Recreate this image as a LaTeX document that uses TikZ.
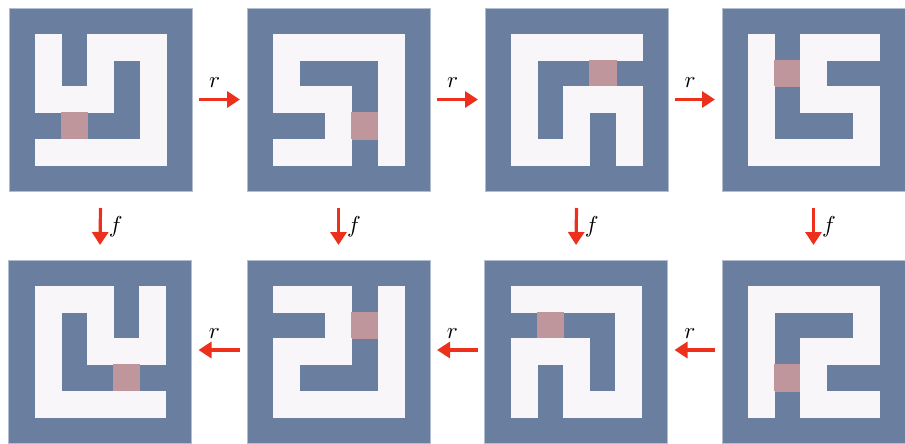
\documentclass[tikz,border=0pt]{standalone}
\usetikzlibrary{arrows.meta,calc}
\definecolor{mblue}{RGB}{106,127,160}
\definecolor{medge}{RGB}{178,190,208}
\definecolor{mwhite}{RGB}{248,246,248}
\definecolor{mpink}{RGB}{190,150,155}
\definecolor{ared}{RGB}{236,48,28}
\tikzset{
  maze/.style={draw=medge,line width=0.5pt,fill=mblue,minimum size=183pt,inner sep=0pt,outer sep=0pt},
  wcell/.style={fill=mwhite,draw=mwhite,line width=0.2pt},
  pcell/.style={fill=mpink,draw=mpink,line width=0.2pt},
  opar/.style={draw=ared,line width=3.2pt,-{Triangle[length=13pt,width=16pt]}},
  oplabel/.style={inner sep=1pt},
}
\newcommand{\oplbl}[1]{\scalebox{2.3}{$#1$}}
\newcommand{\mazecells}[2]{%
  \foreach \v [count=\k from 0] in {#2} {
    \pgfmathtruncatemacro{\rr}{int(\k/5)}
    \pgfmathtruncatemacro{\cc}{mod(\k,5)}
    \pgfmathsetmacro{\xx}{(\cc+1)*183/7}
    \pgfmathsetmacro{\yy}{(\rr+1)*183/7}
    \ifcase\v\relax
    \or \path[wcell] ($(#1.north west)+(\xx,\yy)$) rectangle ++(183/7,183/7);
    \or \path[pcell] ($(#1.north west)+(\xx,\yy)$) rectangle ++(183/7,183/7);
    \fi
  }%
}
\begin{document}
\begin{tikzpicture}[x=1pt,y=-1pt]
\useasboundingbox (0,0) rectangle (905,444);
% top row
\node[maze] (m1) at (100.5,99.5) {};
\node[maze] (m2) at (338.5,99.5) {};
\node[maze] (m3) at (576.5,99.5) {};
\node[maze] (m4) at (813.5,99.5) {};
% bottom row
\node[maze] (m5) at (100,351.5) {};
\node[maze] (m6) at (338.5,351.5) {};
\node[maze] (m7) at (576,351.5) {};
\node[maze] (m8) at (813.5,351.5) {};
\mazecells{m1}{1,0,1,1,1, 1,0,1,0,1, 1,1,1,0,1, 0,2,0,0,1, 1,1,1,1,1}
\mazecells{m2}{1,1,1,1,1, 1,0,0,0,1, 1,1,1,0,1, 0,0,1,2,1, 1,1,1,0,1}
\mazecells{m3}{1,1,1,1,1, 1,0,0,2,0, 1,0,1,1,1, 1,0,1,0,1, 1,1,1,0,1}
\mazecells{m4}{1,0,1,1,1, 1,2,1,0,0, 1,0,1,1,1, 1,0,0,0,1, 1,1,1,1,1}
\mazecells{m5}{1,1,1,0,1, 1,0,1,0,1, 1,0,1,1,1, 1,0,0,2,0, 1,1,1,1,1}
\mazecells{m6}{1,1,1,0,1, 0,0,1,2,1, 1,1,1,0,1, 1,0,0,0,1, 1,1,1,1,1}
\mazecells{m7}{1,1,1,1,1, 0,2,0,0,1, 1,1,1,0,1, 1,0,1,0,1, 1,0,1,1,1}
\mazecells{m8}{1,1,1,1,1, 1,0,0,0,1, 1,0,1,1,1, 1,2,1,0,0, 1,0,1,1,1}
% r arrows, top row
\foreach \a/\b in {m1/m2,m2/m3,m3/m4} {
  \draw[opar] ($(\a.east)+(7,0)$) -- node[oplabel,pos=0.38,above=9pt]{\oplbl{r}} ($(\b.west)+(-7,0)$);
}
% r arrows, bottom row
\foreach \a/\b in {m8/m7,m7/m6,m6/m5} {
  \draw[opar] ($(\a.west)+(-7,-1.5)$) -- node[oplabel,pos=0.62,above=9pt]{\oplbl{r}} ($(\b.east)+(7,-1.5)$);
}
% f arrows
\foreach \a/\b in {m1/m5,m2/m6,m3/m7,m4/m8} {
  \draw[opar] ($(\a.south)+(0,17)$) -- node[oplabel,midway,right=6pt]{\oplbl{f}} ($(\b.north)+(0,-15)$);
}
\end{tikzpicture}
\end{document}
